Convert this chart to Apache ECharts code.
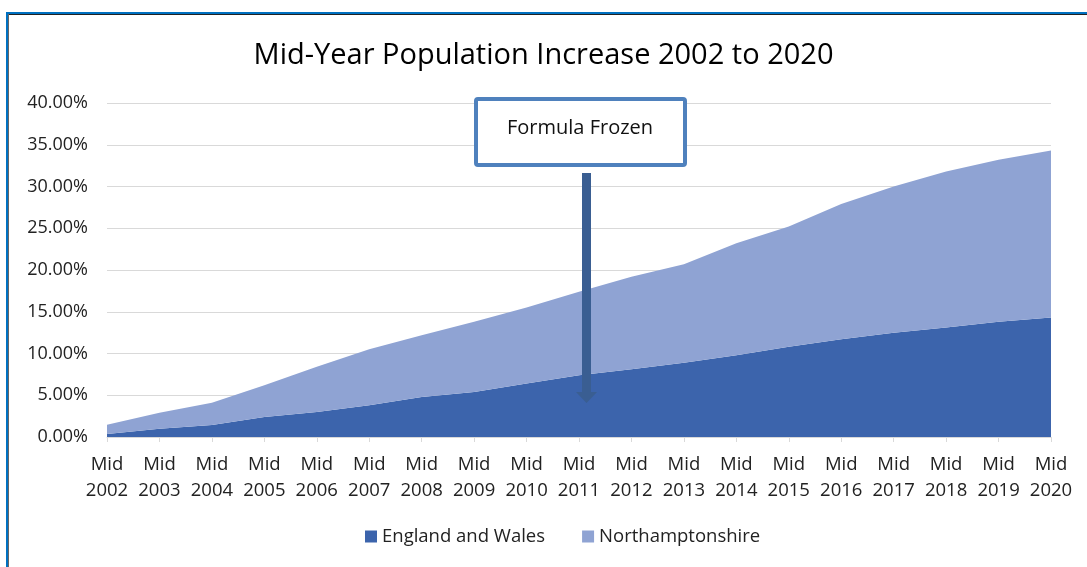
<!DOCTYPE html>
<html>
<head>
<meta charset="utf-8">
<script src="https://cdn.jsdelivr.net/npm/echarts@6/dist/echarts.min.js"></script>
<style>
html, body { margin: 0; padding: 0; background: #fff; }
#chart { width: 1087px; height: 567px; }
</style>
</head>
<body>
<div id="chart"></div>
<script>
// years along the x axis
const years = ['2002','2003','2004','2005','2006','2007','2008','2009','2010','2011',
               '2012','2013','2014','2015','2016','2017','2018','2019','2020'];
// % increase since mid 2002 (stacked areas, as in the source workbook)
const englandWales = [0.36,1.0,1.45,2.4,3.0,3.8,4.8,5.4,6.4,7.4,8.1,8.9,9.8,10.8,11.7,12.5,13.1,13.8,14.3];
const northants    = [1.1,1.9,2.65,3.8,5.4,6.7,7.4,8.4,9.1,10.0,11.1,11.8,13.4,14.4,16.2,17.5,18.7,19.4,20.0];
const yTicks = [0, 5, 10, 15, 20, 25, 30, 35, 40];

const font = '"Open Sans", sans-serif';
const chart = echarts.init(document.getElementById('chart'));

const option = {
    animation: false,
    title: {
        text: 'Mid-Year Population Increase 2002 to 2020',
        left: 'center',
        top: 36,
        textStyle: { fontFamily: font, fontSize: 29, fontWeight: 'normal', color: '#000' }
    },
    legend: {
        bottom: 16,
        left: 360,
        itemWidth: 12,
        itemHeight: 12,
        itemGap: 37,
        icon: 'rect',
        textStyle: { fontFamily: font, fontSize: 18.5, color: '#222' },
        data: ['England and Wales', 'Northamptonshire']
    },
    grid: { left: 107, right: 36, top: 103, bottom: 130 },
    xAxis: {
        type: 'category',
        boundaryGap: false,
        data: years,
        axisLine: { lineStyle: { color: '#d9d9d9' } },
        axisTick: { show: true, length: 5, lineStyle: { color: '#d9d9d9' } },
        axisLabel: {
            interval: 0,
            margin: 15,
            lineHeight: 26,
            fontFamily: font,
            fontSize: 18.5,
            color: '#222',
            formatter: function (v) { return 'Mid\n' + v; }
        }
    },
    yAxis: {
        type: 'value',
        min: yTicks[0],
        max: yTicks[yTicks.length - 1],
        interval: 5,
        axisLine: { show: false },
        axisTick: { show: false },
        splitLine: { lineStyle: { color: '#d9d9d9', width: 1 } },
        axisLabel: {
            margin: 19,
            fontFamily: font,
            fontSize: 18,
            color: '#222',
            formatter: function (v) { return v.toFixed(2) + '%'; }
        }
    },
    series: [
        {
            name: 'England and Wales',
            type: 'line',
            stack: 'total',
            data: englandWales,
            symbol: 'none',
            lineStyle: { width: 0 },
            itemStyle: { color: '#3c64ac' },
            areaStyle: { color: '#3c64ac', opacity: 1 }
        },
        {
            name: 'Northamptonshire',
            type: 'line',
            stack: 'total',
            data: northants,
            symbol: 'none',
            lineStyle: { width: 0 },
            itemStyle: { color: '#8fa3d3' },
            areaStyle: { color: '#8fa3d3', opacity: 1 }
        }
    ],
    graphic: [
        // outer frame of the pasted chart
        { type: 'rect', shape: { x: 6, y: 12, width: 1081, height: 2 }, style: { fill: '#0070c0' }, silent: true },
        { type: 'rect', shape: { x: 8, y: 14, width: 1079, height: 1 }, style: { fill: '#222' }, silent: true },
        { type: 'rect', shape: { x: 6, y: 12, width: 2, height: 555 }, style: { fill: '#0070c0' }, silent: true },
        { type: 'rect', shape: { x: 8, y: 14, width: 1, height: 553 }, style: { fill: '#666' }, silent: true },
        // annotation box
        {
            type: 'rect', z: 100,
            shape: { x: 476, y: 99, width: 209, height: 66, r: 2 },
            style: { fill: '#fff', stroke: '#4f81bd', lineWidth: 4 }
        },
        {
            type: 'text', z: 101,
            x: 580, y: 128,
            style: {
                text: 'Formula Frozen',
                font: '20px "Open Sans", sans-serif',
                fill: '#111',
                align: 'center',
                verticalAlign: 'middle'
            }
        },
        // arrow
        {
            type: 'polygon', z: 100,
            shape: { points: [[582, 173], [591, 173], [591, 392], [597, 392], [586.5, 403], [576, 392], [582, 392]] },
            style: { fill: '#3a5e92' }
        }
    ]
};
chart.setOption(option);
</script>
</body>
</html>
